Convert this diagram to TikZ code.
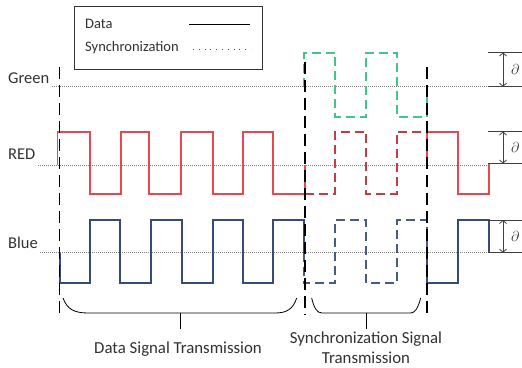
\documentclass[tikz,border=0pt]{standalone}
\usepackage{fontspec}
\setmainfont{Carlito}
\usetikzlibrary{arrows.meta}
\definecolor{txt}{RGB}{50,50,50}
\definecolor{gcol}{RGB}{70,195,135}
\definecolor{rcol}{RGB}{228,72,80}
\definecolor{rdcol}{RGB}{190,62,68}
\definecolor{bcol}{RGB}{55,75,120}
\definecolor{bdcol}{RGB}{70,92,135}
\tikzset{
  lbl/.style={text=txt, font=\fontsize{16.5}{18}\selectfont, inner sep=0pt, anchor=west},
  leg/.style={text=txt, font=\fontsize{14.5}{16}\selectfont, inner sep=0pt, anchor=west},
  bot/.style={text=txt, font=\fontsize{16.8}{20}\selectfont, inner sep=0pt, align=center},
  base/.style={gray, line width=0.6pt, dash pattern=on 0.8pt off 1.2pt},
  divider/.style={black, line width=1.3pt, dash pattern=on 12pt off 6pt},
  datawave/.style={line width=1.9pt, line join=miter},
  syncwave/.style={line width=2pt, dash pattern=on 9pt off 5pt},
  brk/.style={black!75, line width=0.8pt},
  dim/.style={black!75, line width=0.8pt, {Straight Barb[length=3pt,width=7pt]}-{Straight Barb[length=3pt,width=7pt]}},
  brace/.style={black, line width=0.8pt}
}
\begin{document}
\begin{tikzpicture}[x=1pt,y=-1pt]
\useasboundingbox (0,0) rectangle (522,367);
\fill[white] (0,0) rectangle (522,367);
% legend
\draw[black!80, line width=0.8pt] (74,6) rectangle (262,69);
\node[leg] (ldata) at (85,24) {Data};
\node[leg] (lsync) at (85,48) {Synchronization};
\draw[black, line width=0.9pt] (189,24) -- (250,24);
\draw[black!70, line width=0.7pt, dash pattern=on 0.8pt off 5pt] (193,49) -- (251,49);
% labels
\node[lbl] (lg) at (8,78) {Green};
\node[lbl] (lr) at (8,154) {RED};
\node[lbl] (lb) at (8,243) {Blue};
% baselines
\draw[base] (52,86.7) -- (488,86.7);
\draw[base] (38,165) -- (488,165);
\draw[base] (40,252.7) -- (488,252.7);
% red
\draw[datawave, rcol] (57.5,165) -- (57.5,131.7) -- (90,131.7) -- (90,194) -- (120.7,194) -- (120.7,131.7) -- (149.3,131.7) -- (149.3,194) -- (181,194) -- (181,131.7) -- (212.7,131.7) -- (212.7,194) -- (242.7,194) -- (242.7,131.7) -- (273.3,131.7) -- (273.3,194) -- (305,194) -- (305,165);
\draw[syncwave, rdcol] (305,194) -- (335,194) -- (335,131.7) -- (366,131.7) -- (366,194) -- (396.7,194) -- (396.7,131.7) -- (427,131.7);
\draw[datawave, rcol] (427,165) -- (427,131.7) -- (458,131.7) -- (458,194) -- (489,194) -- (489,163);
% blue
\draw[datawave, bcol] (60,252.7) -- (60,283.3) -- (90,283.3) -- (90,220) -- (120,220) -- (120,283.3) -- (151,283.3) -- (151,220) -- (181.7,220) -- (181.7,283.3) -- (212.7,283.3) -- (212.7,220) -- (242.7,220) -- (242.7,283.3) -- (273.3,283.3) -- (273.3,220) -- (304,220) -- (304,252.7);
\draw[syncwave, bdcol] (304,252.7) -- (304,283.3) -- (335,283.3) -- (335,220) -- (366,220) -- (366,283.3) -- (396.7,283.3) -- (396.7,220) -- (427,220) -- (427,252.7);
\draw[datawave, bcol] (427,252.7) -- (427,283.3) -- (458,283.3) -- (458,220) -- (489,220) -- (489,252.7);
% green
\draw[syncwave, gcol] (304,86.7) -- (304,52.5) -- (335,52.5) -- (335,116.7) -- (366,116.7) -- (366,52.5) -- (396.7,52.5) -- (396.7,116.7) -- (427,116.7) -- (427,86.7);
% dividers
\draw[divider] (59.5,67) -- (59.5,315);
\draw[divider] (305,62) -- (305,315);
\draw[divider] (427,67) -- (427,315);
% amplitude brackets
\foreach \t/\b [count=\i] in {52.5/86.7, 131.5/163.5, 220/252.7}{
  \draw[brk] (488,\t) -- (522,\t);
  \draw[brk] (488,\b) -- (522,\b);
  \draw[dim] (503,\t) -- (503,\b);
  \node[text=txt, inner sep=0pt, anchor=west, font=\fontsize{15}{16}\selectfont] (d\i) at (511,{(\t+\b)/2}) {$\partial$};
}
% braces
\draw[brace] (63,298) .. controls (67,309) and (74,313) .. (88,313) -- (275,313) .. controls (287,313) and (293,309) .. (296.7,298);
\draw[brace] (180,313) -- (180,329);
\draw[brace] (311.7,298) .. controls (314,308) and (317,313) .. (322,313) -- (410.7,313) .. controls (415,313) and (418,308) .. (420.7,298);
\draw[brace] (366.7,313) -- (366.7,329);
% bottom texts
\node[bot] (tdata) at (178,349) {Data Signal Transmission};
\node[bot] (tsync) at (366,348) {Synchronization Signal\\Transmission};
\end{tikzpicture}
\end{document}
